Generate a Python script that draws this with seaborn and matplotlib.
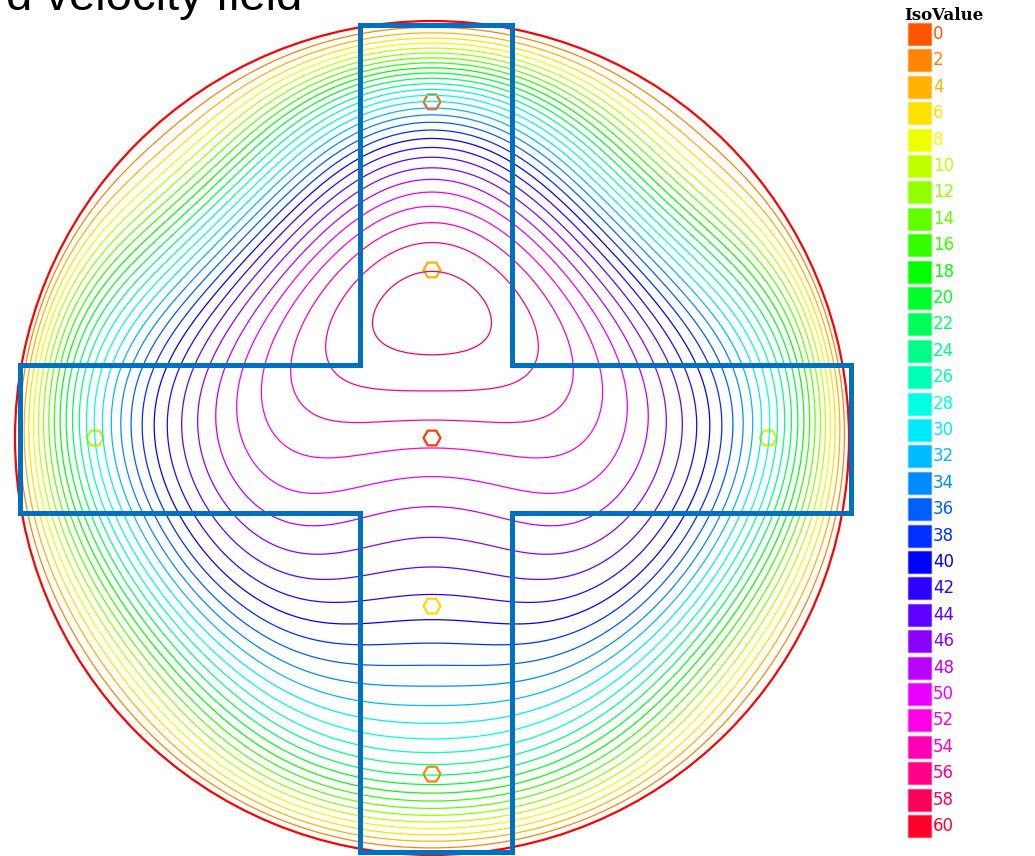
import numpy as np
import matplotlib
matplotlib.use("Agg")
import matplotlib.pyplot as plt
import matplotlib.colors as mcolors
from matplotlib.patches import Circle, Polygon, Rectangle
import seaborn as sns

# picture size and disk placement (pixels)
W, H = 1035, 856
CX, CY, RAD = 432, 438, 417

# iso values of the legend
iso_levels = list(range(0, 62, 2))

# contour crossings (pixel coords)
# vertical centre line above the peak, levels 4..58
top_y = [31, 38, 43, 49, 54, 60, 64, 69, 74, 79, 84, 89, 95, 101, 107, 114,
         121, 128, 137, 146, 156, 167, 180, 194, 213, 230, 245, 268]
top_levels = list(range(4, 60, 2))
# vertical centre line below the peak, levels 58..4
bottom_y = [357, 390, 417, 443, 477, 510, 540, 567, 592, 617, 642, 667, 687, 707,
            725, 740, 752, 763, 773, 783, 792, 800, 807, 815, 823, 830, 837, 845]
bottom_levels = list(range(58, 2, -2))
# horizontal centre line, left arm, levels 6..52
left_x = [27, 32, 38, 45, 50, 57, 62, 68, 73, 80, 87, 95, 102, 112, 122, 132,
          140, 152, 167, 185, 207, 220, 242, 275]
left_levels = list(range(6, 54, 2))
# off-axis crossings around the peak (left half, the field is mirror symmetric)
extra_x = [431, 431, 378, 370, 350, 336, 330, 330, 330, 230]
extra_y = [268, 357, 322, 260, 297, 345, 388, 420, 457, 420]
extra_levels = [58, 58, 58, 56, 56, 56, 56, 54, 52, 50]
extra_weight = [30, 30, 30, 12, 12, 12, 12, 12, 12, 12]

# sensor points (disk units)
sensor_u = [0.0, 0.0, 0.0, -0.808, 0.806, 0.0, 0.0]
sensor_v = [0.806, 0.403, 0.0, 0.0, 0.0, -0.403, -0.806]
sensor_colors = ['#ff6400', '#ffb000', '#ff3c00', '#d8ee00', '#d8ee00', '#ffd800', '#ff8000']

# polynomial terms u^(2i) v^j of the smooth factor
terms = [(0, j) for j in range(9)] + [(1, j) for j in range(4)] + \
        [(2, j) for j in range(3)] + [(3, 0), (3, 1), (4, 0)]


def basis(u, v):
    return np.stack([u**(2 * i) * v**j for i, j in terms], axis=-1)


def spacing(pos, lev):
    # pixels per iso unit along a profile: turns level misfit into position misfit
    return np.abs(np.gradient(np.asarray(pos, float), np.asarray(lev, float)))


# fit a smooth field vanishing on the circle to the crossings
px = np.r_[np.full(len(top_y), 431.0), np.full(len(bottom_y), 431.0), left_x, extra_x]
py = np.r_[top_y, bottom_y, np.full(len(left_x), 438.0), extra_y]
pl = np.r_[top_levels, bottom_levels, left_levels, extra_levels].astype(float)
wt = np.r_[spacing(top_y, top_levels), spacing(bottom_y, bottom_levels),
           spacing(left_x, left_levels), extra_weight]
pu = (px - CX) / RAD
pv = (CY - py) / RAD
A = basis(pu, pv) * (1 - pu**2 - pv**2)[:, None] * wt[:, None]
b = pl * wt
pen = np.diag([0.0 if (i == 0 or j == 0) else 1e-3 for i, j in terms])
coef = np.linalg.solve(A.T @ A + pen, A.T @ b)

g = np.linspace(-1, 1, 801)
U, V = np.meshgrid(g, g)
F = (basis(U, V) @ coef) * (1 - U**2 - V**2)
F[U**2 + V**2 > 1] = np.nan

# FreeFem-like rainbow: hue runs from orange round to red
hues = [(20 + 11 * i) % 360 for i in range(len(iso_levels))]
level_colors = [mcolors.hsv_to_rgb((h / 360, 1, 1)) for h in hues]

sns.set_theme(style="white")
fig = plt.figure(figsize=(W / 100, H / 100), dpi=100)
ax = fig.add_axes([0, 0, 1, 1])
ax.set_xlim((0 - CX) / RAD, (W - CX) / RAD)
ax.set_ylim((CY - H) / RAD, CY / RAD)
ax.axis("off")

ax.contour(U, V, F, levels=iso_levels[1:-1], colors=level_colors[1:-1], linewidths=0.9)
ax.add_patch(Circle((0, 0), 1, fill=False, ec="#ff0000", lw=1.6))

sns.scatterplot(x=sensor_u, y=sensor_v, hue=list(range(len(sensor_u))),
                palette=sensor_colors, marker="H", s=150, legend=False, ax=ax)
pts = ax.collections[-1]
pts.set_edgecolors(sensor_colors)
pts.set_facecolors("none")
pts.set_linewidth(1.6)

# overlay in pixel units: cross outline, legend, title
ov = fig.add_axes([0, 0, 1, 1])
ov.set_xlim(0, W)
ov.set_ylim(H, 0)
ov.axis("off")
ov.patch.set_alpha(0)

cross = [(360, 25), (512, 25), (512, 365), (851, 365), (851, 513), (512, 513),
         (512, 852), (360, 852), (360, 513), (20, 513), (20, 365), (360, 365)]
ov.add_patch(Polygon(cross, closed=True, fill=False, ec="#0070c0", lw=3.6, joinstyle="miter"))

for i, lev in enumerate(iso_levels):
    y0 = 23 + 26.4 * i
    ov.add_patch(Rectangle((908, y0), 23, 22, fc=level_colors[i],
                           ec=mcolors.to_rgba(level_colors[i], 0.45), lw=1))
    ov.text(933, y0 + 11, str(lev), color=level_colors[i], fontsize=12,
            family="DejaVu Sans", ha="left", va="center")
ov.text(904, 15, "IsoValue", fontsize=12, family="DejaVu Serif", weight="bold",
        ha="left", va="center", color="black")

ov.text(302, 10, "d velocity field", fontsize=34, family="Liberation Sans",
        ha="right", va="baseline", color="black")

fig.savefig("out.png", dpi=100)
